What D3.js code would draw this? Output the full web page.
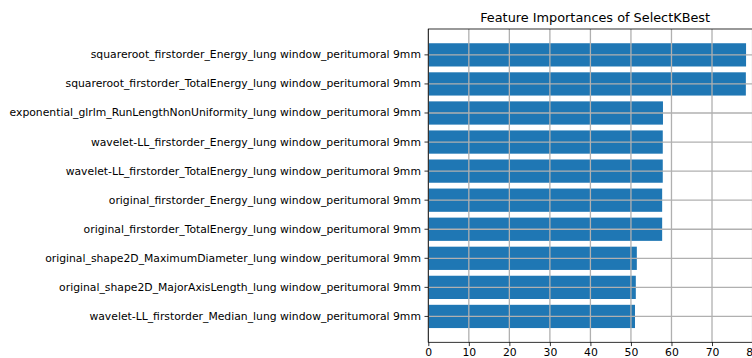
<!DOCTYPE html>
<html>
<head>
<meta charset="utf-8">
<script src="https://cdn.jsdelivr.net/npm/d3@7"></script>
<style>
  html, body { margin: 0; padding: 0; background: #fff; overflow: hidden; }
  svg text { font-family: 'DejaVu Sans', sans-serif; }
</style>
</head>
<body>
<svg id="chart" width="752" height="358"></svg>
<script>
// Feature names, top to bottom
const features = [
  "squareroot_firstorder_Energy_lung window_peritumoral 9mm",
  "squareroot_firstorder_TotalEnergy_lung window_peritumoral 9mm",
  "exponential_glrlm_RunLengthNonUniformity_lung window_peritumoral 9mm",
  "wavelet-LL_firstorder_Energy_lung window_peritumoral 9mm",
  "wavelet-LL_firstorder_TotalEnergy_lung window_peritumoral 9mm",
  "original_firstorder_Energy_lung window_peritumoral 9mm",
  "original_firstorder_TotalEnergy_lung window_peritumoral 9mm",
  "original_shape2D_MaximumDiameter_lung window_peritumoral 9mm",
  "original_shape2D_MajorAxisLength_lung window_peritumoral 9mm",
  "wavelet-LL_firstorder_Median_lung window_peritumoral 9mm"
];
// SelectKBest scores
const scores = [78.4, 78.35, 57.9, 57.85, 57.85, 57.7, 57.7, 51.45, 51.2, 51.0];
const xTicks = [0, 10, 20, 30, 40, 50, 60, 70, 80];
const titleText = "Feature Importances of SelectKBest";

const svg = d3.select("#chart");
const plotLeft = 428.3, plotTop = 29, plotBottom = 342.3;
const xMax = d3.max(scores) * 1.05;
const pxPerUnit = 4.053;
const plotRight = plotLeft + xMax * pxPerUnit;

const x = d3.scaleLinear().domain([0, xMax]).range([plotLeft, plotRight]);
const y = d3.scaleBand().domain(features).range([plotTop, plotBottom])
  .paddingInner(0.2).paddingOuter(0.49);

// bars
svg.append("g").selectAll("rect").data(features).join("rect")
  .attr("x", x(0))
  .attr("y", d => y(d))
  .attr("width", (d, i) => x(scores[i]) - x(0))
  .attr("height", y.bandwidth())
  .attr("fill", "#1f77b4");

// grid over the bars
const grid = svg.append("g").attr("stroke", "#b0b0b0").attr("stroke-width", 1.3);
grid.selectAll("line.v").data(xTicks).join("line")
  .attr("class", "v")
  .attr("x1", d => x(d)).attr("x2", d => x(d))
  .attr("y1", plotTop).attr("y2", plotBottom);
grid.selectAll("line.h").data(features).join("line")
  .attr("class", "h")
  .attr("x1", plotLeft).attr("x2", plotRight)
  .attr("y1", d => y(d) + y.bandwidth() / 2)
  .attr("y2", d => y(d) + y.bandwidth() / 2);

// axes
const xAxis = d3.axisBottom(x).tickValues(xTicks).tickSize(3.8).tickPadding(2.6).tickFormat(d3.format("d"));
const gx = svg.append("g").attr("transform", `translate(0,${plotBottom})`).call(xAxis);
const yAxis = d3.axisLeft(y).tickSize(3.8).tickPadding(3.6);
const gy = svg.append("g").attr("transform", `translate(${plotLeft},0)`).call(yAxis);

[gx, gy].forEach(g => {
  g.attr("font-family", null).attr("font-size", null);
  g.select(".domain").remove();
  g.selectAll(".tick line").attr("stroke", "#000").attr("stroke-width", 0.8);
  g.selectAll(".tick text").attr("fill", "#000").style("font-size", "10.8px");
});

// spines
svg.append("rect")
  .attr("x", plotLeft).attr("y", plotTop)
  .attr("width", plotRight - plotLeft).attr("height", plotBottom - plotTop)
  .attr("fill", "none").attr("stroke", "#000").attr("stroke-width", 0.8);

// title
svg.append("text")
  .attr("x", (plotLeft + plotRight) / 2).attr("y", 22)
  .attr("text-anchor", "middle")
  .style("font-size", "12.85px")
  .attr("fill", "#000")
  .text(titleText);
</script>
</body>
</html>
